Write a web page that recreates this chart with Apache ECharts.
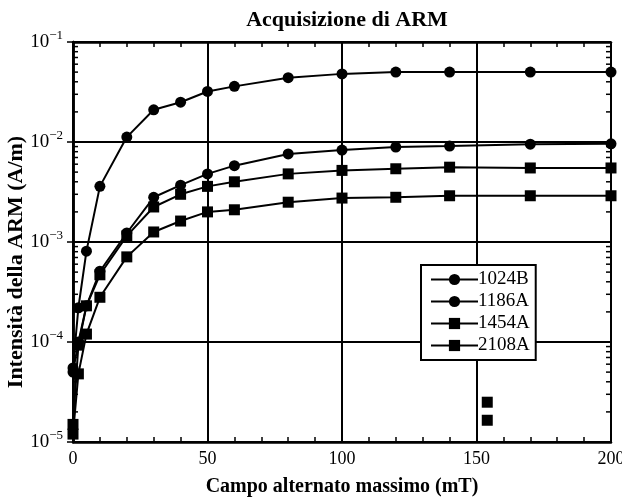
<!DOCTYPE html>
<html>
<head>
<meta charset="utf-8">
<script src="https://cdn.jsdelivr.net/npm/echarts@6/dist/echarts.min.js"></script>
<style>
  html, body { margin: 0; padding: 0; background: #fff; }
  #chart { width: 622px; height: 497px; }
</style>
</head>
<body>
<div id="chart"></div>
<script>
// campo alternato (mT)
var campo = [0, 2, 5, 10, 20, 30, 40, 50, 60, 80, 100, 120, 140, 170, 200];

var s1024B = [5.5e-5, 2.2e-4, 8.1e-4, 3.6e-3, 1.12e-2, 2.1e-2, 2.5e-2, 3.2e-2, 3.6e-2, 4.4e-2, 4.8e-2, 5.0e-2, 5.0e-2, 5.0e-2, 5.0e-2];
var s1186A = [5.0e-5, 1.0e-4, 2.3e-4, 5.1e-4, 1.23e-3, 2.8e-3, 3.7e-3, 4.8e-3, 5.8e-3, 7.6e-3, 8.3e-3, 8.9e-3, 9.1e-3, 9.5e-3, 9.6e-3];
var s1454A = [1.5e-5, 9.3e-5, 2.3e-4, 4.7e-4, 1.15e-3, 2.24e-3, 3.0e-3, 3.6e-3, 4.0e-3, 4.8e-3, 5.2e-3, 5.4e-3, 5.6e-3, 5.5e-3, 5.5e-3];
var s2108A = [1.2e-5, 4.8e-5, 1.2e-4, 2.8e-4, 7.1e-4, 1.26e-3, 1.62e-3, 2.0e-3, 2.1e-3, 2.5e-3, 2.75e-3, 2.8e-3, 2.9e-3, 2.9e-3, 2.9e-3];

// due quadrati isolati vicino a 154 mT
var extraX = [154, 154];
var extraY = [2.5e-5, 1.65e-5];

var nomi = ['1024B', '1186A', '1454A', '2108A'];
var simboli = ['circle', 'circle', 'rect', 'rect'];

// tacche minori del log (2..9 per decade)
var minorLog = [];
[-5, -4, -3, -2].forEach(function (e) {
  for (var m = 2; m <= 9; m++) minorLog.push(m * Math.pow(10, e));
});

var font = 'Liberation Serif';

function coppie(xs, ys) {
  return xs.map(function (x, i) { return [x, ys[i]]; });
}

var chart = echarts.init(document.getElementById('chart'), null, { renderer: 'canvas' });

var datiSerie = [s1024B, s1186A, s1454A, s2108A];
var series = datiSerie.map(function (d, i) {
  return {
    name: nomi[i],
    type: 'line',
    data: coppie(campo, d),
    symbol: simboli[i],
    symbolSize: 11,
    lineStyle: { color: '#000', width: 2 },
    itemStyle: { color: '#000', opacity: 1 },
    z: 5
  };
});

series.push({
  name: 'extra',
  type: 'scatter',
  data: coppie(extraX, extraY),
  symbol: 'rect',
  symbolSize: 11,
  itemStyle: { color: '#000', opacity: 1 },
  z: 5
});

series.push({
  name: 'minor',
  type: 'custom',
  data: minorLog.map(function (v) { return [0, v]; }),
  silent: true,
  z: 4,
  renderItem: function (params, api) {
    var v = api.value(1);
    var a = api.coord([0, v]);
    var b = api.coord([200, v]);
    return {
      type: 'group',
      children: [
        { type: 'line', shape: { x1: a[0], y1: a[1], x2: a[0] + 5, y2: a[1] }, style: { stroke: '#000', lineWidth: 1.5 } },
        { type: 'line', shape: { x1: b[0], y1: b[1], x2: b[0] - 5, y2: b[1] }, style: { stroke: '#000', lineWidth: 1.5 } }
      ]
    };
  }
});

function asseY(pos, labels) {
  return {
    type: 'log',
    logBase: 10,
    min: 1e-5,
    max: 1e-1,
    position: pos,
    name: labels ? 'Intensità della ARM (A/m)' : '',
    nameLocation: 'middle',
    nameGap: 46,
    nameMoveOverlap: false,
    nameTextStyle: { fontFamily: font, fontWeight: 'bold', fontSize: 22, color: '#000', padding: [0, 40, 0, 0] },
    axisLine: { show: true, lineStyle: { color: '#000', width: 2.5 } },
    axisTick: { show: true, inside: true, length: 6, lineStyle: { color: '#000', width: 1.5 } },
    splitLine: { show: labels, lineStyle: { color: '#000', width: 2 } },
    axisLabel: {
      show: labels,
      margin: 10,
      formatter: function (v) {
        var e = Math.round(Math.log10(v));
        return '{b|10}{s|' + (e < 0 ? '\u2212' + (-e) : e) + '}';
      },
      rich: {
        b: { fontFamily: font, fontSize: 19, color: '#000' },
        s: { fontFamily: font, fontSize: 13, color: '#000', padding: [0, 0, 13, 0] }
      }
    }
  };
}

function asseX(pos, labels) {
  return {
    type: 'value',
    min: 0,
    max: 200,
    interval: 50,
    position: pos,
    name: labels ? 'Campo alternato massimo (mT)' : '',
    nameLocation: 'middle',
    nameGap: 35,
    nameMoveOverlap: false,
    nameTextStyle: { fontFamily: font, fontWeight: 'bold', fontSize: 20, color: '#000' },
    axisLine: { show: true, lineStyle: { color: '#000', width: 2.5 } },
    axisTick: { show: true, inside: true, length: 6, lineStyle: { color: '#000', width: 1.5 } },
    minorTick: { show: true, splitNumber: 5, length: 5, lineStyle: { color: '#000', width: 1.5 } },
    splitLine: { show: labels, lineStyle: { color: '#000', width: 2 } },
    axisLabel: { show: labels, margin: 8, fontFamily: font, fontSize: 18, color: '#000' }
  };
}

var option = {
  backgroundColor: '#fff',
  animation: false,
  title: {
    text: 'Acquisizione di ARM',
    left: 342,
    textAlign: 'center',
    top: 4,
    textStyle: { fontFamily: font, fontWeight: 'bold', fontSize: 22, color: '#000' }
  },
  grid: { left: 73, right: 11, top: 42, bottom: 55, outerBoundsMode: 'none', containLabel: false },
  xAxis: [asseX('bottom', true), asseX('top', false)],
  yAxis: [asseY('left', true), asseY('right', false)],
  legend: {
    data: nomi,
    orient: 'vertical',
    left: 421,
    top: 265,
    padding: [5, 6, 5, 9],
    itemGap: 3,
    itemWidth: 47,
    itemHeight: 14,
    borderColor: '#000',
    borderWidth: 2,
    backgroundColor: '#fff',
    textStyle: { fontFamily: font, fontSize: 19, lineHeight: 18, color: '#000', padding: [0, 0, 0, -5] }
  },
  series: series
};

chart.setOption(option);
</script>
</body>
</html>
